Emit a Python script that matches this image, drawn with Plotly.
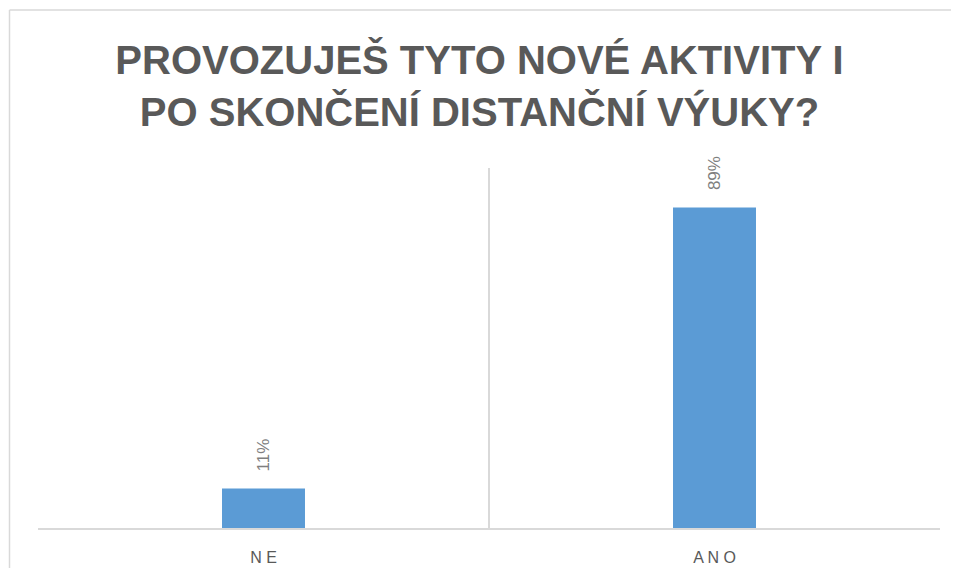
import plotly.graph_objects as go

categories = ["NE", "ANO"]
values = [11, 89]
labels = ["11%", "89%"]
tick_text = ["N E", "A N O"]

title_text = "PROVOZUJEŠ TYTO NOVÉ AKTIVITY I<br>PO SKONČENÍ DISTANČNÍ VÝUKY?"

# page has 8px body margin on every side; keep the figure inside the window
W, H = 943, 560
ml, mr, mt, mb = 30, 11, 160, 40
pw, ph = W - ml - mr, H - mt - mb

fig = go.Figure()
fig.add_trace(go.Bar(
    x=categories,
    y=values,
    marker=dict(color="#5B9BD5", line=dict(width=0)),
    width=0.184,
    hoverinfo="skip",
))

annotations = [
    dict(x=c, y=v, text=t, textangle=-90, showarrow=False,
         xref="x", yref="y", xanchor="center", yanchor="bottom", yshift=15,
         font=dict(family="Liberation Sans, Arial", size=17, color="#7f7f7f"))
    for c, v, t in zip(categories, values, labels)
]

fx0 = (1.5 - ml) / pw
fy1 = (H - mb - 2) / ph
frame = dict(color="#d9d9d9", width=1.5)

fig.update_layout(
    width=W, height=H,
    margin=dict(l=ml, r=mr, t=mt, b=mb, autoexpand=False),
    paper_bgcolor="white", plot_bgcolor="white",
    showlegend=False,
    annotations=annotations,
    title=dict(
        text=title_text,
        x=0.5, xanchor="center",
        y=1 - 66 / H, yanchor="top",
        font=dict(family="Liberation Sans, Arial", size=40, color="#595959", weight="bold"),
    ),
    xaxis=dict(
        type="category",
        automargin=False,
        tickson="boundaries",
        showgrid=True, gridcolor="#d9d9d9", gridwidth=1.5,
        showline=True, linecolor="#d9d9d9", linewidth=1.5,
        ticks="", tickvals=categories, ticktext=tick_text,
        ticklabelstandoff=14,
        tickfont=dict(family="Liberation Sans, Arial", size=16, color="#595959"),
        range=[-0.5, 1.5],
        zeroline=False,
    ),
    yaxis=dict(
        range=[0, 100], automargin=False,
        showgrid=False, showticklabels=False, zeroline=False, showline=False, ticks="",
    ),
    shapes=[
        dict(type="line", xref="paper", yref="paper",
             x0=fx0, x1=(W + 30 - ml) / pw, y0=fy1, y1=fy1,
             line=frame, layer="below"),
        dict(type="line", xref="paper", yref="paper",
             x0=fx0, x1=fx0, y0=fy1, y1=-(mb + 30) / ph,
             line=frame, layer="below"),
    ],
)

fig.write_html("out.html")
